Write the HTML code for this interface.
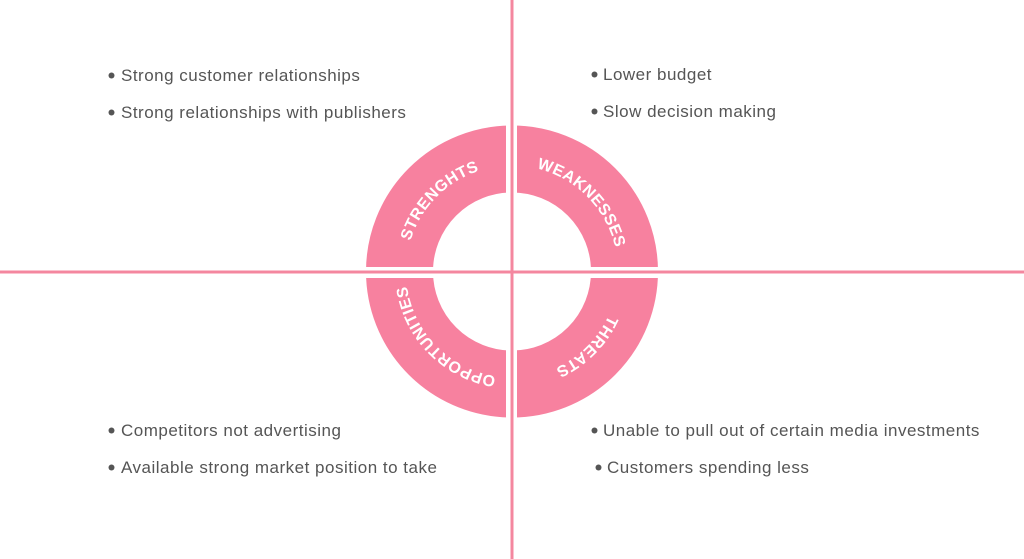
<!DOCTYPE html>
<html><head><meta charset="utf-8"><style>
html,body{margin:0;padding:0;background:#fff;}
body{width:1024px;height:559px;overflow:hidden;position:relative;font-family:"Liberation Sans",sans-serif;}
svg{position:absolute;left:0;top:0;}
</style></head><body>
<svg width="1024" height="559" viewBox="0 0 1024 559">
  <circle cx="512" cy="271.5" r="112.5" fill="none" stroke="#f7819f" stroke-width="67"/>
  <rect x="506" y="0" width="11" height="559" fill="#fff"/>
  <rect x="0" y="267" width="1024" height="11" fill="#fff"/>
  <rect x="510.5" y="0" width="3" height="559" fill="#f4879f"/>
  <rect x="0" y="270.5" width="1024" height="3" fill="#f4879f"/>
  <defs>
    <path id="ring" d="M 406 271.5 A 106 106 0 1 1 618 271.5 A 106 106 0 1 1 406 271.5"/>
  </defs>
  <g font-family="Liberation Sans, sans-serif" font-weight="bold" font-size="16" fill="#fff" letter-spacing="0.4" text-anchor="middle">
    <text><textPath href="#ring" startOffset="82">STRENGHTS</textPath></text>
    <text><textPath href="#ring" startOffset="250">WEAKNESSES</textPath></text>
    <text><textPath href="#ring" startOffset="416">THREATS</textPath></text>
    <text><textPath href="#ring" startOffset="583">OPPORTUNITIES</textPath></text>
  </g>
  <g fill="#555">
    <circle cx="111.5" cy="75.5" r="3"/>
    <circle cx="111.5" cy="112.5" r="3"/>
    <circle cx="594.5" cy="74.5" r="3"/>
    <circle cx="594.5" cy="111.5" r="3"/>
    <circle cx="111.5" cy="430.5" r="3"/>
    <circle cx="111.5" cy="467.5" r="3"/>
    <circle cx="594.5" cy="430.5" r="3"/>
    <circle cx="598.5" cy="467.5" r="3"/>
  </g>
  <g font-family="Liberation Sans, sans-serif" font-size="17" fill="#555" letter-spacing="0.5">
    <text x="121" y="81">Strong customer relationships</text>
    <text x="121" y="118">Strong relationships with publishers</text>
    <text x="603" y="80">Lower budget</text>
    <text x="603" y="117">Slow decision making</text>
    <text x="121" y="436">Competitors not advertising</text>
    <text x="121" y="473">Available strong market position to take</text>
    <text x="603" y="436">Unable to pull out of certain media investments</text>
    <text x="607" y="473">Customers spending less</text>
  </g>
</svg>
</body></html>
